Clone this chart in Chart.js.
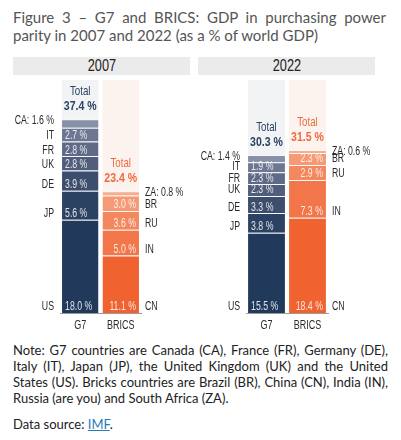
<!DOCTYPE html>
<html>
<head>
<meta charset="utf-8">
<script src="https://cdn.jsdelivr.net/npm/chart.js@4/dist/chart.umd.min.js"></script>
<style>
  html,body{margin:0;padding:0;background:#fff;}
  body{width:401px;height:440px;position:relative;overflow:hidden;font-family:Lato,"Open Sans",sans-serif;}
  .title{position:absolute;left:13px;top:8px;width:373px;font-size:15px;line-height:18px;color:#555;}
  .just{text-align:justify;text-align-last:justify;}
  .band{position:absolute;top:57px;height:18px;width:177px;background:#ebebeb;text-align:center;
        font-family:"Liberation Sans",Arial,sans-serif;font-size:17px;line-height:18px;color:#222;}
  .band span{display:inline-block;transform:scaleX(0.75);}
  .cv{position:absolute;top:78px;height:262px;}
  .note{position:absolute;left:13px;top:342px;width:375px;font-size:13px;line-height:16px;color:#222;}
  .src{position:absolute;left:13px;top:416px;font-size:13px;line-height:16px;color:#222;}
  .src a{color:#2a7ab8;text-decoration:underline;}
</style>
</head>
<body>
<div class="title">
  <div class="just">Figure 3 – G7 and BRICS: GDP in purchasing power</div>
  <div>parity in 2007 and 2022 (as a % of world GDP)</div>
</div>
<div class="band" style="left:13px;"><span id="band0"></span></div>
<div class="band" style="left:198px;"><span id="band1"></span></div>
<div class="cv" style="left:0px;width:195px;"><canvas id="c0" width="195" height="262"></canvas></div>
<div class="cv" style="left:195px;width:206px;"><canvas id="c1" width="206" height="262"></canvas></div>
<div class="note">
  <div class="just">Note: G7 countries are Canada (CA), France (FR), Germany (DE),</div>
  <div class="just">Italy (IT), Japan (JP), the United Kingdom (UK) and the United</div>
  <div class="just">States (US). Bricks countries are Brazil (BR), China (CN), India (IN),</div>
  <div>Russia (are you) and South Africa (ZA).</div>
</div>
<div class="src">Data source: <a>IMF</a>.</div>
<script>
// ---- data ----
const years = ['2007', '2022'];
const categories = ['G7', 'BRICS'];
const g7Codes = ['US', 'JP', 'DE', 'UK', 'FR', 'IT', 'CA'];
const g7_2007 = [18.0, 5.6, 3.9, 2.8, 2.8, 2.7, 1.6];
const g7_2022 = [15.5, 3.8, 3.3, 2.3, 2.3, 1.9, 1.4];
const bricsCodes = ['CN', 'IN', 'RU', 'BR', 'ZA'];
const brics_2007 = [11.1, 5.0, 3.6, 3.0, 0.8];
const brics_2022 = [18.4, 7.3, 2.9, 2.3, 0.6];
const totals_2007 = [37.4, 23.4];
const totals_2022 = [30.3, 31.5];
const yMax = 45;

// ---- styles ----
const g7Colors = ['#213a5c', '#2c4263', '#3c4d6d', '#505e7c', '#5f6a87', '#6c7792', '#8790a6'];
const bricsColors = ['#f0622f', '#f2764a', '#f3875d', '#f59a74', '#f7ae8f'];
const colBg = ['#f2f3f5', '#fcf3ef'];
const totalColors = ['#2b4262', '#ef6a3d'];
const FAM = '"Liberation Sans", Arial, sans-serif';

function fmt(v) { return v.toFixed(1) + ' %'; }

// draw condensed text (horizontal squeeze)
function ctext(ctx, text, x, y, align, font, color, sx) {
  ctx.save();
  ctx.translate(x, y);
  ctx.scale(sx, 1);
  ctx.font = font;
  ctx.fillStyle = color;
  ctx.textAlign = align;
  ctx.textBaseline = 'middle';
  ctx.fillText(text, 0, 0);
  ctx.restore();
}

const bgPlugin = {
  id: 'colbg',
  beforeDatasetsDraw(chart) {
    const ctx = chart.ctx;
    const ys = chart.scales.y;
    categories.forEach((c, i) => {
      const dsIdx = chart.data.datasets.findIndex(d => d.data[i] !== null);
      const el = chart.getDatasetMeta(dsIdx).data[i];
      const top = ys.getPixelForValue(yMax);
      ctx.save();
      ctx.fillStyle = colBg[i];
      ctx.fillRect(el.x - el.width / 2, top, el.width, el.base - top);
      ctx.restore();
    });
  }
};

const labelPlugin = {
  id: 'seglabels',
  afterDatasetsDraw(chart) {
    const ctx = chart.ctx;
    const totals = chart.options.plugins.seglabels.totals;
    const F = '12.5px ' + FAM, SX = 0.7;
    const tops = [Infinity, Infinity];
    chart.data.datasets.forEach((ds, di) => {
      const meta = chart.getDatasetMeta(di);
      ds.data.forEach((v, i) => {
        if (v === null) return;
        const el = meta.data[i];
        const left = el.x - el.width / 2, right = el.x + el.width / 2;
        tops[i] = Math.min(tops[i], el.y);
        if (ds.outside) {
          const y = el.y + 1.5;
          if (i === 0) ctext(ctx, ds.code + ': ' + fmt(v), left - 8, y, 'right', F, '#2a2a2a', SX);
          else ctext(ctx, ds.code + ': ' + fmt(v), right + 6, y, 'left', F, '#2a2a2a', SX);
        } else {
          const y = el.base - 6;
          if (i === 0) {
            ctext(ctx, fmt(v), left + 3, y, 'left', F, 'rgba(255,255,255,0.85)', SX);
            ctext(ctx, ds.code, left - 8, y, 'right', F, '#2a2a2a', SX);
          } else {
            ctext(ctx, fmt(v), right - 3, y, 'right', F, 'rgba(255,255,255,0.85)', SX);
            ctext(ctx, ds.code, right + 6, y, 'left', F, '#2a2a2a', SX);
          }
        }
      });
    });
    const xs = chart.scales.x;
    categories.forEach((c, i) => {
      const x = xs.getPixelForValue(i);
      ctext(ctx, 'Total', x, tops[i] - 28, 'center', '13.5px ' + FAM, totalColors[i], 0.72);
      ctext(ctx, fmt(totals[i]), x, tops[i] - 13, 'center', 'bold 13.5px ' + FAM, totalColors[i], 0.78);
      // category (axis) labels
      ctext(ctx, c, x, chart.chartArea.bottom + 12.5, 'center', '12.5px ' + FAM, '#2a2a2a', 0.72);
    });
  }
};

function makeDatasets(g7, brics) {
  const ds = [];
  g7.forEach((v, k) => ds.push({
    code: g7Codes[k], outside: k === g7.length - 1,
    data: [v, null], backgroundColor: g7Colors[k],
    borderColor: 'rgba(255,255,255,0.45)', borderWidth: {top: 1, left: 0, right: 0, bottom: 0}, borderSkipped: false
  }));
  brics.forEach((v, k) => ds.push({
    code: bricsCodes[k], outside: k === brics.length - 1,
    data: [null, v], backgroundColor: bricsColors[k],
    borderColor: 'rgba(255,255,255,0.45)', borderWidth: {top: 1, left: 0, right: 0, bottom: 0}, borderSkipped: false
  }));
  return ds;
}

function makeChart(id, g7, brics, totals, padL, padR) {
  return new Chart(document.getElementById(id), {
    type: 'bar',
    data: { labels: categories, datasets: makeDatasets(g7, brics) },
    options: {
      responsive: false, animation: false,
      layout: { padding: { left: padL, right: padR, top: 2, bottom: 27 } },
      datasets: { bar: { barPercentage: 0.9, categoryPercentage: 1.0 } },
      scales: {
        x: { stacked: true,
             grid: { display: false, drawTicks: false },
             border: { display: true, color: '#9a9a9a', width: 1 },
             ticks: { display: false } },
        y: { stacked: true, display: false, min: 0, max: yMax }
      },
      plugins: { legend: { display: false }, tooltip: { enabled: false }, seglabels: { totals } }
    },
    plugins: [bgPlugin, labelPlugin]
  });
}

document.getElementById('band0').textContent = years[0];
document.getElementById('band1').textContent = years[1];
makeChart('c0', g7_2007, brics_2007, totals_2007, 60, 54);
makeChart('c1', g7_2022, brics_2022, totals_2022, 51, 73);
</script>
</body>
</html>
